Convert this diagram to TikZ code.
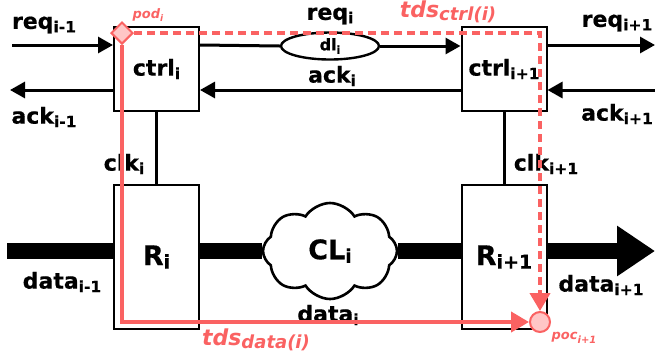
\documentclass[tikz,border=0pt]{standalone}
\usepackage{fontspec}
\setmainfont{DejaVu Sans}[BoldFeatures={FakeBold=0.6}]
\usepackage{xcolor}
\definecolor{ColR}{RGB}{250,98,98}
\definecolor{ColP}{RGB}{255,198,198}
\usepackage{tikz}
\usetikzlibrary{shapes}
\usetikzlibrary{arrows.meta}
\newcommand{\Sub}[2][15.5]{\raisebox{-3.5pt}{\fontsize{#1}{#1}\selectfont #2}}
\tikzstyle{Box}=[draw,line width=2pt,minimum width=85pt,minimum height=84pt,
inner sep=0pt,font=\fontsize{22}{24}\selectfont\bfseries]
\tikzstyle{Lbl}=[inner sep=0pt,font=\fontsize{22}{24}\selectfont\bfseries]
\tikzstyle{BigLbl}=[font=\fontsize{27}{28}\selectfont\bfseries]
\tikzstyle{RedLbl}=[inner sep=0pt,text=ColR,
font=\fontsize{22}{24}\selectfont\bfseries\itshape]
\tikzstyle{Wire}=[draw,line width=3pt]
\tikzstyle{Tip}=[-{Triangle[length=15pt,width=16pt]}]
\tikzstyle{Bus}=[draw,line width=16pt]
\tikzstyle{Trace}=[draw=ColR,line width=4pt]
\tikzstyle{RedTip}=[-{Triangle[length=18pt,width=20pt]}]

\begin{document}
\begin{tikzpicture}[x=1pt,y=-1pt]
        \useasboundingbox(0,0)rectangle(655,360);
        \node[Box](ctrlA)at(156.5,69){ctrl\Sub{i}};
        \node[Box](ctrlB)at(504,69){ctrl\Sub{i+1}};
        \node[Box,BigLbl,minimum height=144pt](RA)at(156.5,257){R\Sub[19]{i}};
        \node[Box,BigLbl,minimum height=144pt](RB)at(504,257){R\Sub[19]{i+1}};
        \node[draw,ellipse,line width=2.4pt,minimum width=98pt,minimum height=27pt,
            inner sep=0pt,font=\fontsize{16}{16}\selectfont\bfseries]
            (dl)at(330,46){dl\Sub[11]{i}};
        \node[draw,cloud,cloud puffs=8,cloud puff arc=115,aspect=1.45,
            minimum width=134pt,minimum height=96pt,line width=2.6pt,inner sep=0pt,
            fill=white,BigLbl]
            (CL)at(330,251){CL\Sub[19]{i}};
        \coordinate(reqA)at(12,45);
        \coordinate(reqC)at(655,45);
        \coordinate(ackA)at(10,90);
        \coordinate(ackC)at(655,90);
        \coordinate(dataA)at(7,251);
        \coordinate(dataC)at(655,251);
        \draw[Wire,Tip](reqA)--(reqA-|ctrlA.west);
        \draw[Wire](ctrlA.east|-reqA)--(dl.west);
        \draw[Wire,Tip](dl.east)--(dl.east-|ctrlB.west);
        \draw[Wire,Tip](ctrlB.east|-reqC)--(reqC);
        \draw[Wire,Tip](ackC)--(ackC-|ctrlB.east);
        \draw[Wire,Tip](ctrlB.west|-ackC)--(ctrlA.east|-ackC);
        \draw[Wire,Tip](ctrlA.west|-ackA)--(ackA);
        \draw[Wire](ctrlA)--(RA);
        \draw[Wire](ctrlB)--(RB);
        \draw[Bus](dataA)--(dataA-|RA.west);
        \draw[Bus](RA.east|-dataA)--(CL.west);
        \draw[Bus](CL.east)--(RB.west|-dataA);
        \draw[Bus,-{Triangle[length=38pt,width=48pt]}](RB.east|-dataC)--(dataC);
        \node[Lbl](lreqA)at(44,25){req\Sub{i-1}};
        \node[Lbl](lreqB)at(330,16){req\Sub{i}};
        \node[Lbl](lreqC)at(617,23){req\Sub{i+1}};
        \node[Lbl](lackA)at(44,117){ack\Sub{i-1}};
        \node[Lbl](lackB)at(332,76){ack\Sub{i}};
        \node[Lbl](lackC)at(617,114){ack\Sub{i+1}};
        \node[Lbl](lclkA)at(124,164){clk\Sub{i}};
        \node[Lbl](lclkB)at(546,164){clk\Sub{i+1}};
        \node[Lbl](ldataA)at(62,282){data\Sub{i-1}};
        \node[Lbl](ldataB)at(328,315){data\Sub{i}};
        \node[Lbl](ldataC)at(601,285){data\Sub{i+1}};
        % delay paths
        \node[diamond,draw=ColR,fill=ColP,line width=2pt,minimum size=22pt,
            inner sep=0pt](pod)at(122,33){};
        \node[circle,draw=ColR,fill=ColP,line width=2pt,minimum size=20pt,
            inner sep=0pt](poc)at(540,322){};
        \draw[Trace,RedTip](pod)|-(poc);
        \draw[Trace,RedTip,dash pattern=on 8pt off 5pt](pod)-|(poc);
        \node[RedLbl,font=\fontsize{13}{14}\selectfont\bfseries\itshape]
            (lpod)at(148,15){pod\Sub[9]{i}};
        \node[RedLbl,font=\fontsize{13}{14}\selectfont\bfseries\itshape]
            (lpoc)at(574,338){poc\Sub[10]{i+1}};
        \node[RedLbl](ltdsA)at(448,12){tds\Sub[18]{ctrl(i)}};
        \node[RedLbl](ltdsB)at(256,340){tds\Sub[18]{data(i)}};
    \end{tikzpicture}
\end{document}
